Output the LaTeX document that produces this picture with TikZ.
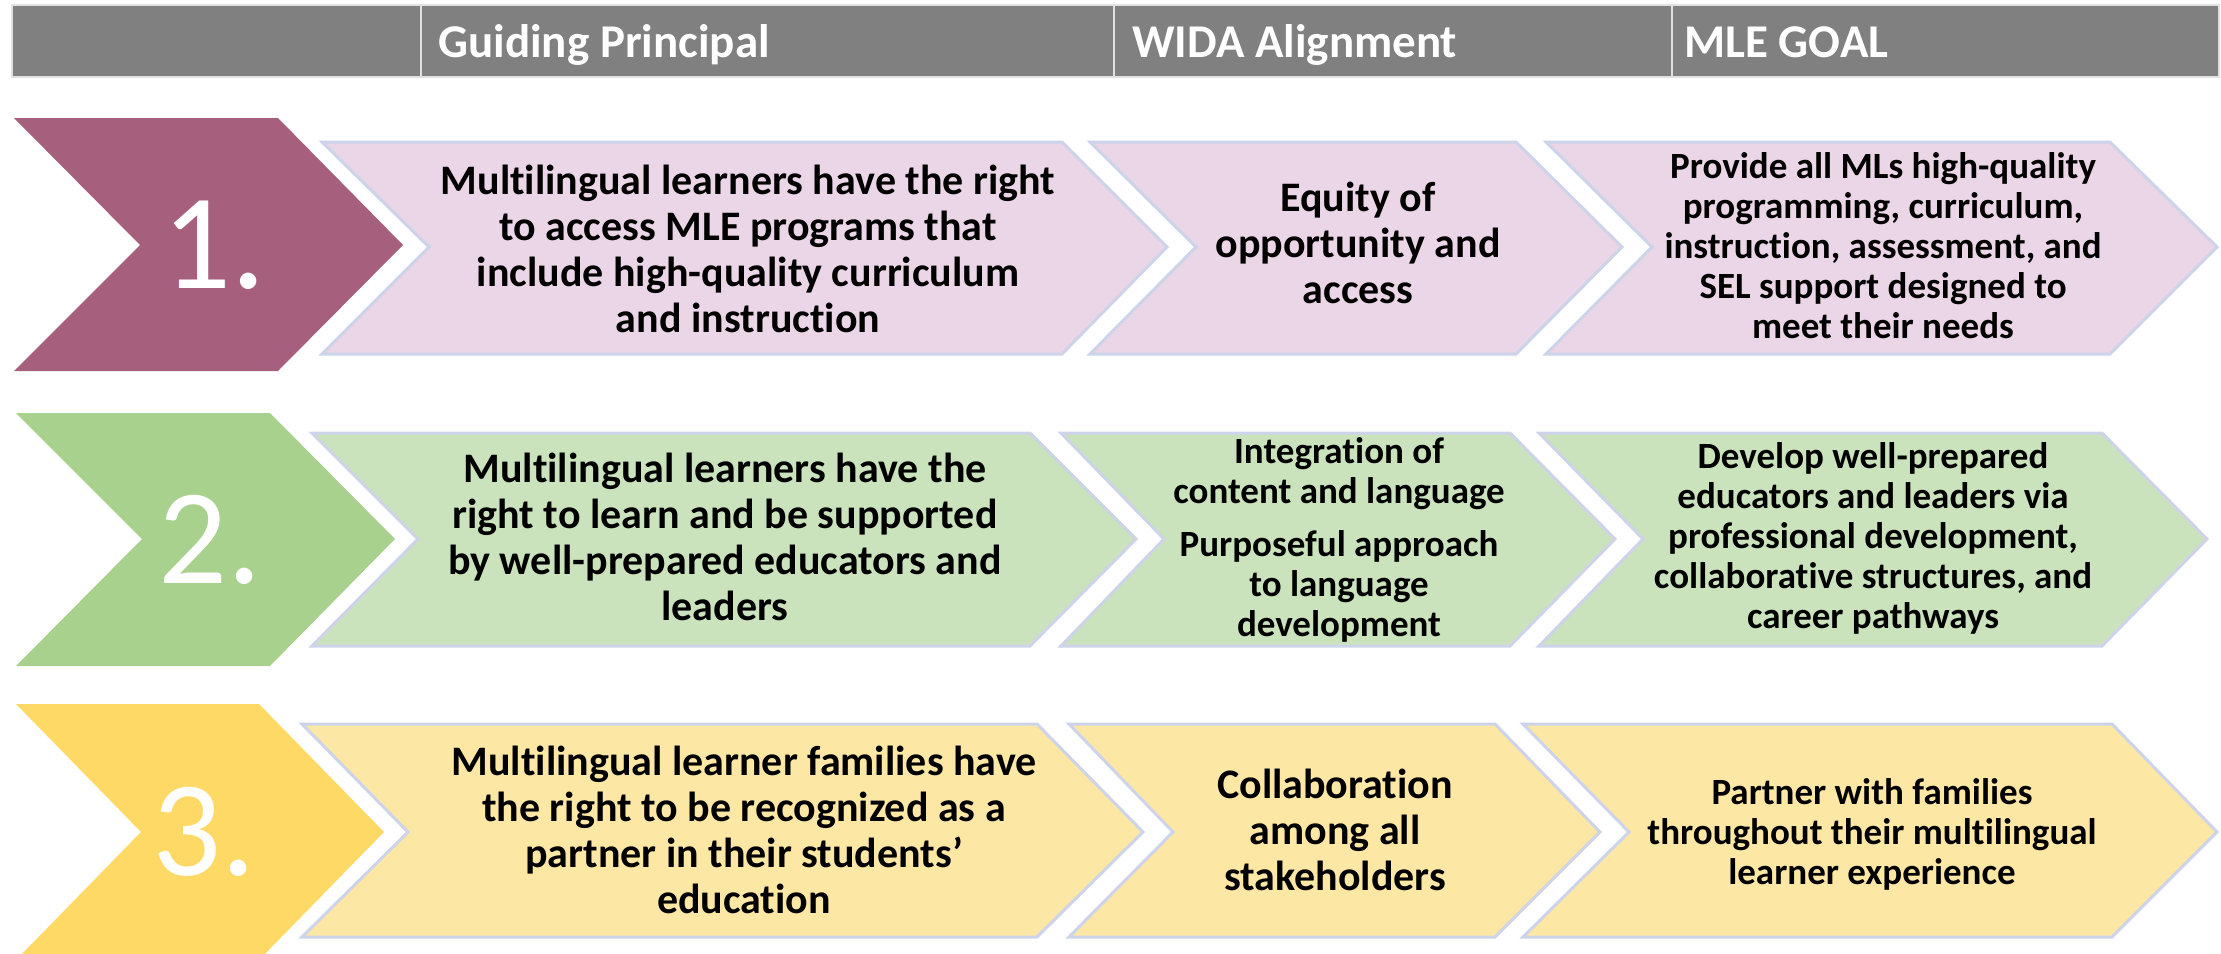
\documentclass[tikz,border=0pt]{standalone}
\usepackage{fontspec}
\setmainfont{Carlito}[Ligatures=NoCommon]
\usepackage{tikz}

\tikzset{
  headText/.style={anchor=base west, inner sep=0pt, text=white, font=\bfseries\fontsize{23.5}{28}\selectfont},
  numText/.style={anchor=base, inner sep=0pt, text=white, font=\fontsize{68}{80}\selectfont},
  bigText/.style={align=center, font=\bfseries\fontsize{21}{23}\selectfont},
  smallText/.style={align=center, font=\bfseries\fontsize{18.5}{20}\selectfont},
  boxLine/.style={draw=boxEdge, line width=1.5pt, line join=miter}
}

\begin{document}
\begin{tikzpicture}[x=0.5pt,y=-0.5pt]
\useasboundingbox (0,0) rectangle (2221,953);
\definecolor{headColor}{RGB}{128,128,128}
\definecolor{headEdge}{RGB}{225,225,225}
\definecolor{boxEdge}{RGB}{205,212,234}
\definecolor{plumDark}{RGB}{166,96,125}
\definecolor{plumLight}{RGB}{234,214,230}
\definecolor{greenDark}{RGB}{169,209,142}
\definecolor{greenLight}{RGB}{203,227,189}
\definecolor{goldDark}{RGB}{255,217,102}
\definecolor{goldLight}{RGB}{253,231,165}
\begin{scope}
  \clip (0,0) rectangle (2221,953);
  % header row
  \foreach \xa/\xb in {12/421,421/1114,1114/1672,1672/2219}
    \draw[color=headEdge, fill=headColor, line width=1pt] (\xa,5) rectangle (\xb,77);
  \node[headText] (hGuide) at (438,57) {Guiding Principal};
  \node[headText] (hWida) at (1132,57) {WIDA Alignment};
  \node[headText] (hGoal) at (1684,57) {MLE GOAL};
  % row 1
  \fill[plumDark] (14,118) -- (278,118) -- (403,245) -- (278,371) -- (14,371) -- (140,245) -- cycle;
  \draw[boxLine, fill=plumLight] (322,142) -- (1062,142) -- (1167,247) -- (1062,354) -- (322,354) -- (429,247) -- cycle;
  \draw[boxLine, fill=plumLight] (1090,142) -- (1516,142) -- (1622,247) -- (1516,354) -- (1090,354) -- (1196,247) -- cycle;
  \draw[boxLine, fill=plumLight] (1546,142) -- (2110,142) -- (2217,247) -- (2110,354) -- (1546,354) -- (1652,247) -- cycle;
  \node[numText] (num1) at (214,288) {1.};
  \node[bigText] (gp1) at (748,249) {Multilingual learners have the right\\to access MLE programs that\\include high-quality curriculum\\and instruction};
  \node[bigText] (wida1) at (1358,243) {Equity of\\opportunity and\\access};
  \node[smallText] (goal1) at (1883,246) {Provide all MLs high-quality\\programming, curriculum,\\instruction, assessment, and\\SEL support designed to\\meet their needs};
  % row 2
  \fill[greenDark] (16,413) -- (270,413) -- (395,539) -- (270,666) -- (16,666) -- (142,539) -- cycle;
  \draw[boxLine, fill=greenLight] (312,433) -- (1030,433) -- (1136,539) -- (1030,646) -- (312,646) -- (418,539) -- cycle;
  \draw[boxLine, fill=greenLight] (1061,433) -- (1510,433) -- (1615,539) -- (1510,646) -- (1061,646) -- (1164,539) -- cycle;
  \draw[boxLine, fill=greenLight] (1539,433) -- (2102,433) -- (2207,539) -- (2102,646) -- (1539,646) -- (1643,539) -- cycle;
  \node[numText] (num2) at (210,583) {2.};
  \node[bigText] (gp2) at (725,537) {Multilingual learners have the\\right to learn and be supported\\by well-prepared educators and\\leaders};
  \node[smallText] (wida2) at (1339,540) {Integration of\\content and language\\[6.5pt]Purposeful approach\\to language\\development};
  \node[smallText] (goal2) at (1873,538) {Develop well-prepared\\educators and leaders via\\professional development,\\collaborative structures, and\\career pathways};
  % row 3
  \fill[goldDark] (16,704) -- (259,704) -- (384,832) -- (259,960) -- (16,960) -- (141,832) -- cycle;
  \draw[boxLine, fill=goldLight] (302,724) -- (1037,724) -- (1143,832) -- (1037,937) -- (302,937) -- (408,832) -- cycle;
  \draw[boxLine, fill=goldLight] (1069,724) -- (1495,724) -- (1600,832) -- (1495,937) -- (1069,937) -- (1173,832) -- cycle;
  \draw[boxLine, fill=goldLight] (1523,724) -- (2112,724) -- (2217,832) -- (2112,937) -- (1523,937) -- (1629,832) -- cycle;
  \node[numText] (num3) at (204,875) {3.};
  \node[bigText] (gp3) at (744,830) {Multilingual learner families have\\the right to be recognized as a\\partner in their students’\\education};
  \node[bigText] (wida3) at (1335,830) {Collaboration\\among all\\stakeholders};
  \node[smallText] (goal3) at (1872,834) {Partner with families\\throughout their multilingual\\learner experience};
\end{scope}
\end{tikzpicture}
\end{document}
